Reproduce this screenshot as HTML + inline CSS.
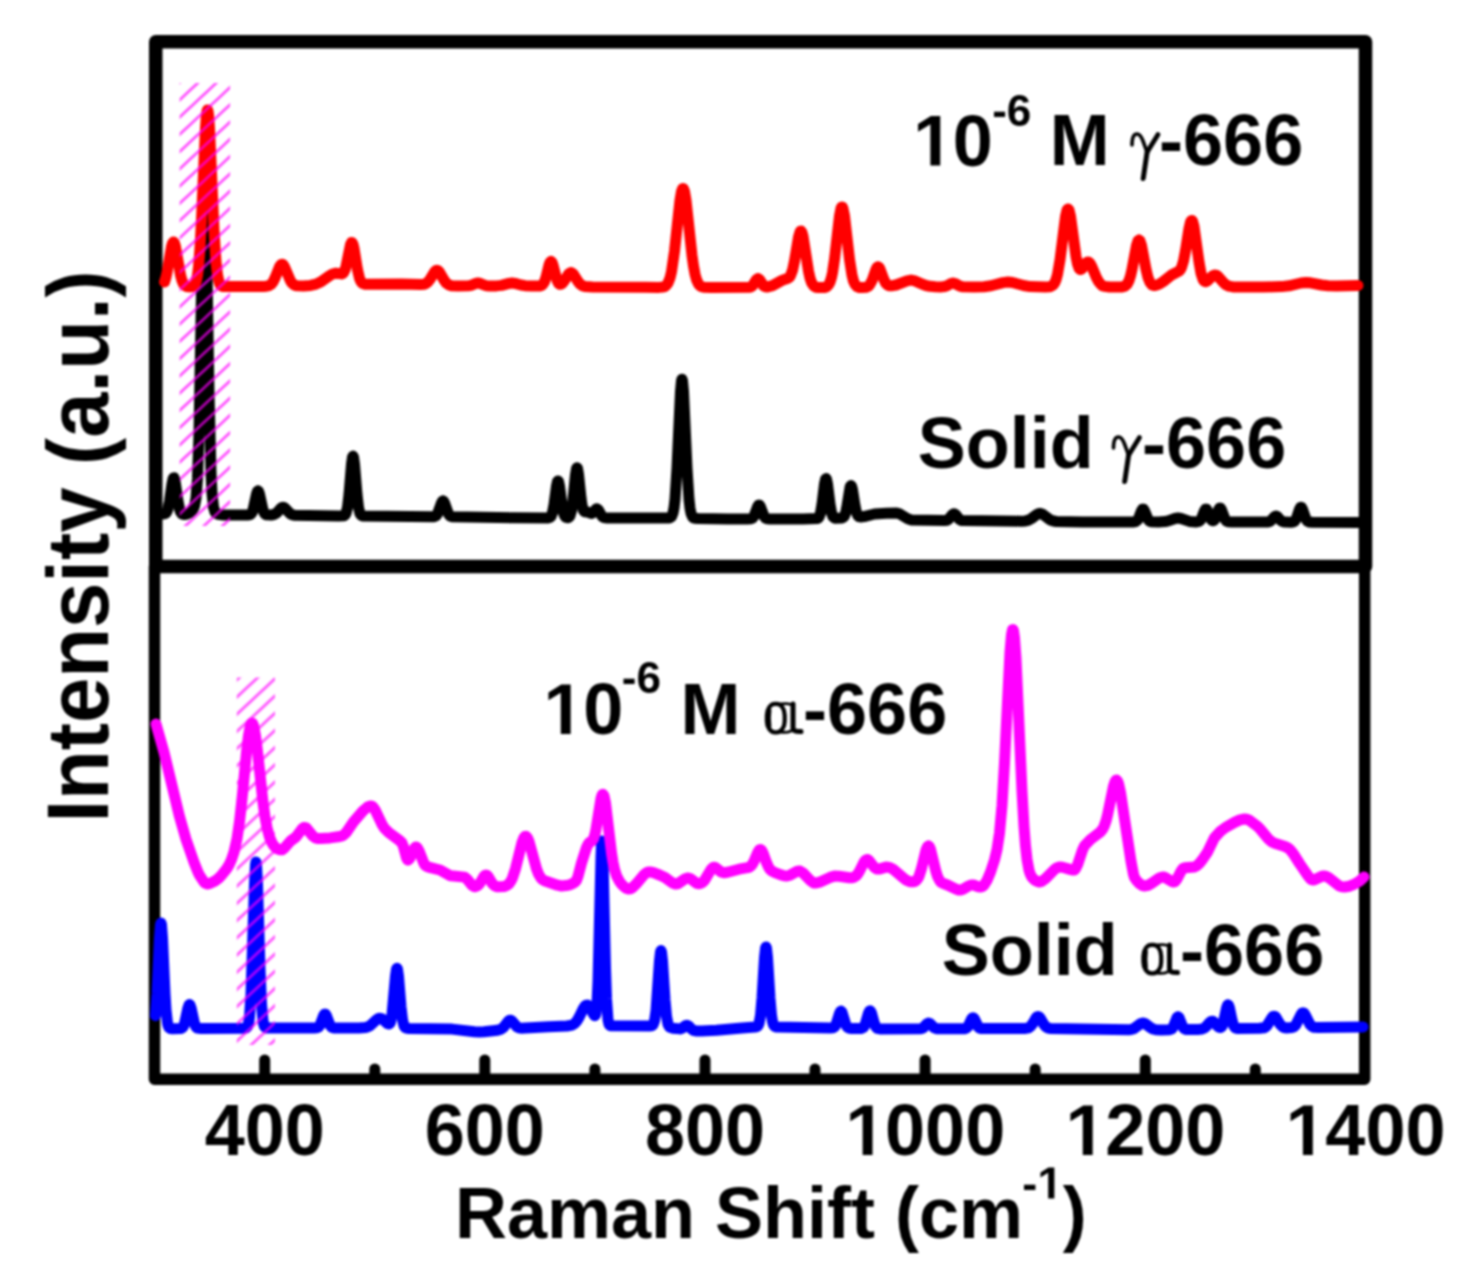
<!DOCTYPE html>
<html><head><meta charset="utf-8"><style>
html,body{margin:0;padding:0;background:#fff;width:1474px;height:1270px;overflow:hidden}
svg{display:block;filter:blur(0.8px)}
text{font-family:"Liberation Sans",sans-serif;font-weight:bold;fill:#000}
.g{font-family:"Liberation Serif",serif;font-style:italic;font-weight:normal}
.a{font-family:"Liberation Serif",serif;font-weight:normal}
</style></head><body>
<svg width="1474" height="1270" viewBox="0 0 1474 1270">
<defs>
<pattern id="h" patternUnits="userSpaceOnUse" width="12.62" height="12.62" patternTransform="rotate(-43)">
<rect x="0" y="4.89" width="12.62" height="2.8" fill="#ff00ff" fill-opacity="0.68"/>
</pattern>
<pattern id="h2" patternUnits="userSpaceOnUse" width="12.58" height="12.58" patternTransform="rotate(-43)">
<rect x="0" y="3.2" width="12.58" height="2.8" fill="#ff00ff" fill-opacity="0.68"/>
</pattern>
<g id="gam" fill="none" stroke="#000" stroke-linecap="round" stroke-linejoin="round">
<path d="M1,-20 C1,-28 3,-31 6,-31 C9,-31 10.5,-28 12,-24 L16,-13" stroke-width="3.6"/>
<path d="M27,-30.5 L16.2,-13" stroke-width="4.8"/>
<path d="M16.2,-13.5 L12.2,13.5" stroke-width="5"/>
</g>
<g id="alp" fill="none" stroke="#000" stroke-linecap="round" stroke-linejoin="round">
<rect x="2.9" y="-30.2" width="17.8" height="28.6" rx="8" ry="11.5" stroke-width="4.2"/>
<path d="M5.6,-24 C4.8,-18 4.8,-13 5.6,-7.5" stroke-width="3.6"/>
<path d="M29,-30 L29,-5.5 Q29.2,-2.2 37,-2.4" stroke-width="5"/>
<path d="M17,-30 Q23,-31 27,-29.5" stroke-width="2.8"/>
<path d="M17,-1.8 Q23,-1 27,-3" stroke-width="2.8"/>
</g>
<path id="one" d="M500,0 L500,1170 L150,959 L150,1180 L515,1409 L781,1409 L781,0 Z"/>
</defs>
<rect width="1474" height="1270" fill="#fff"/>
<g fill="none" stroke="#000" stroke-linejoin="round">
<rect x="155.75" y="41.75" width="1209.75" height="524.75" stroke-width="13.5"/>
<rect x="154.5" y="566.5" width="1210.2" height="512.75" stroke-width="11.5"/>
</g>
<g fill="none" stroke-width="11" stroke-linejoin="round" stroke-linecap="round">
<polyline stroke="#000" points="163.5,513.9 165.0,513.6 166.0,513.0 167.0,511.5 168.0,508.7 169.5,501.3 172.0,483.8 173.0,479.0 173.5,478.0 174.0,477.9 175.0,480.7 178.0,501.1 179.5,508.9 180.5,511.9 182.0,514.0 184.0,514.6 187.0,514.0 189.5,512.8 192.0,510.6 193.5,508.4 194.5,506.0 196.0,498.2 197.5,478.3 199.0,434.2 203.0,208.5 204.0,176.9 204.5,173.0 205.0,177.7 206.0,210.8 209.0,392.4 211.0,473.1 212.0,493.1 213.5,507.2 215.0,512.0 216.0,513.3 218.0,514.3 222.0,514.9 229.5,515.0 247.5,515.0 249.5,514.8 250.5,514.3 252.0,512.6 253.0,510.1 256.5,494.2 257.5,491.4 258.0,491.0 258.5,491.4 259.5,494.2 263.0,510.2 264.5,513.4 265.5,514.4 266.5,514.8 271.0,515.0 274.5,514.3 277.0,512.6 281.0,508.1 282.0,507.5 283.0,507.2 284.0,507.5 285.0,508.2 290.0,513.6 292.0,514.7 294.0,515.2 338.5,516.0 344.0,515.7 345.0,515.0 346.0,513.4 347.5,507.4 349.0,494.5 351.5,464.1 352.5,457.1 353.0,456.1 353.5,457.1 354.5,464.2 357.0,494.5 358.5,507.5 360.0,513.6 361.0,515.2 362.5,516.0 434.0,516.7 436.0,515.8 437.5,513.9 441.5,502.8 442.5,501.2 443.0,500.9 443.5,501.2 444.5,502.8 448.5,514.0 450.0,515.9 452.0,516.8 513.5,517.8 548.5,517.9 550.0,517.4 551.0,516.4 552.5,512.6 554.0,504.7 556.5,485.9 557.5,481.6 558.0,481.0 558.5,481.6 559.5,485.9 562.0,504.7 563.5,512.6 564.5,515.5 565.5,517.0 566.5,517.6 568.0,517.7 569.0,517.1 570.0,515.8 571.5,510.7 573.0,500.0 575.5,474.6 576.5,468.6 577.0,467.7 577.5,468.4 578.5,474.1 581.0,498.0 582.0,505.1 583.0,509.3 583.5,510.5 584.5,511.7 587.5,512.0 590.5,513.3 592.0,513.4 593.5,512.3 596.0,509.1 597.0,508.7 598.5,510.1 601.0,514.7 602.5,516.7 604.0,517.6 606.0,517.9 669.5,517.9 670.5,517.5 671.5,516.6 673.0,513.0 674.0,507.9 675.0,499.3 677.0,468.1 680.5,391.4 681.5,380.6 682.0,379.2 682.5,380.7 683.5,391.5 687.0,468.2 689.0,499.5 690.0,508.2 691.0,513.3 692.5,516.8 693.5,517.8 694.5,518.2 698.0,518.5 728.0,518.9 747.5,519.0 751.0,518.8 752.5,518.1 754.0,516.2 757.5,506.9 758.5,505.2 759.0,505.0 759.5,505.2 760.5,506.9 764.0,516.2 765.5,518.1 767.0,518.8 770.0,519.0 803.0,519.0 817.0,518.6 818.0,518.2 819.0,517.1 820.5,513.0 822.0,504.3 824.5,484.0 825.5,479.3 826.0,478.6 826.5,479.3 827.5,484.0 830.0,504.1 831.5,512.7 833.0,516.7 834.0,517.7 835.5,518.2 842.0,517.9 843.5,517.1 844.5,515.8 845.5,513.3 846.5,509.1 850.0,487.6 850.5,486.1 851.0,485.6 851.5,486.1 852.5,489.8 855.0,505.8 856.5,512.6 858.0,515.8 859.0,516.6 860.5,516.9 864.0,516.6 874.5,514.0 886.5,513.2 896.5,513.0 900.0,514.1 907.5,518.6 911.0,519.9 944.5,520.5 947.0,520.2 948.5,519.3 952.5,514.5 954.0,513.7 955.5,514.5 959.5,519.4 961.0,520.3 962.5,520.6 1021.5,521.2 1025.5,520.9 1028.5,520.1 1031.5,518.5 1037.0,514.4 1038.5,513.7 1040.0,513.5 1041.5,513.8 1043.0,514.5 1048.5,518.7 1051.0,520.2 1053.5,521.0 1056.5,521.5 1082.5,521.9 1133.0,522.0 1135.5,521.6 1137.5,520.1 1139.0,517.3 1141.5,510.7 1142.5,509.2 1143.0,509.0 1143.5,509.2 1144.5,510.7 1148.0,519.4 1149.5,521.1 1151.0,521.8 1158.5,522.0 1165.0,521.6 1169.0,520.7 1175.0,518.5 1178.0,518.0 1181.0,518.5 1189.5,521.4 1196.5,521.9 1199.0,521.4 1200.5,520.1 1202.0,517.3 1204.5,510.7 1205.5,509.2 1206.0,509.0 1206.5,509.2 1207.5,510.7 1211.0,519.3 1212.0,520.5 1213.5,520.7 1214.5,519.8 1215.5,518.1 1218.5,509.9 1219.5,508.2 1220.0,508.0 1220.5,508.2 1221.5,509.9 1225.0,519.2 1226.5,521.1 1228.0,521.8 1231.5,522.0 1267.5,522.0 1269.0,521.7 1270.5,521.0 1274.5,516.8 1276.0,516.1 1277.5,516.8 1280.5,520.2 1282.5,521.6 1285.0,522.1 1291.0,522.2 1293.5,521.8 1294.5,521.2 1295.5,520.0 1297.0,516.8 1299.5,509.2 1300.5,507.5 1301.0,507.2 1301.5,507.5 1302.5,509.2 1306.0,519.2 1307.5,521.2 1309.0,522.0 1312.5,522.3 1359.0,522.5"/>
<polyline stroke="#f00" points="164.5,282.0 166.0,277.2 167.0,272.6 171.5,246.6 172.5,243.2 173.5,242.0 174.5,243.2 175.5,246.6 180.5,275.0 182.0,280.6 183.5,284.0 185.0,285.7 186.5,286.5 189.5,286.9 192.5,286.6 194.0,285.7 195.0,284.4 196.5,280.3 197.5,275.1 198.5,267.2 200.0,248.3 201.5,220.1 205.5,128.1 206.5,114.7 207.0,111.1 207.5,109.9 208.0,111.1 208.5,114.6 209.5,128.1 214.0,230.4 216.0,261.8 217.5,275.0 219.0,281.9 220.0,284.3 221.0,285.6 222.0,286.2 223.5,286.6 263.0,286.4 266.5,286.2 269.0,285.6 271.0,284.4 273.0,282.0 275.0,278.0 279.5,266.8 281.0,264.7 282.0,264.2 283.0,264.6 284.5,266.8 290.5,280.9 292.0,283.1 294.0,284.8 295.5,285.5 297.5,285.8 303.5,285.9 310.5,285.4 316.0,284.1 321.0,281.7 329.5,275.7 332.5,274.0 336.0,273.2 341.5,273.9 342.5,273.6 343.5,272.8 345.0,269.8 346.0,266.5 350.5,244.6 351.5,242.5 352.0,242.5 353.0,244.3 354.0,248.4 357.5,269.8 359.5,278.3 360.5,280.8 361.5,282.4 363.0,283.6 365.0,284.2 401.5,284.0 420.5,284.5 424.0,284.2 426.0,283.5 428.0,281.9 430.0,279.4 434.5,272.0 436.0,270.6 437.0,270.3 438.0,270.7 439.5,272.2 444.0,280.0 446.0,282.8 448.5,284.7 451.5,285.7 458.0,286.0 468.5,285.8 471.0,285.4 476.0,283.4 478.0,283.0 480.0,283.4 484.0,285.0 486.5,285.7 490.0,286.0 496.5,285.9 501.5,285.4 509.0,283.4 512.0,283.0 515.0,283.4 521.0,285.0 525.0,285.7 531.5,286.0 540.0,285.9 541.5,285.5 542.5,284.8 544.5,281.7 546.0,277.2 549.0,265.0 550.0,262.3 551.0,261.3 552.0,262.3 553.0,265.1 557.0,280.3 558.5,283.3 560.0,284.3 561.0,284.1 562.5,283.1 564.0,281.2 568.5,274.2 570.0,272.9 571.0,272.6 572.0,272.9 573.5,274.3 578.0,281.5 580.0,284.0 582.5,285.8 585.0,286.6 592.5,286.9 645.5,287.3 659.0,287.4 663.0,287.0 664.5,286.6 666.0,285.6 668.0,283.1 670.0,278.0 671.5,271.7 674.5,251.2 680.0,200.1 681.5,191.5 682.5,188.8 683.0,188.5 683.5,188.8 684.5,191.5 686.0,200.1 692.0,255.4 693.5,266.1 695.0,274.1 696.5,279.6 698.5,284.0 699.5,285.2 701.0,286.4 704.0,287.3 711.5,287.5 749.5,287.3 751.0,286.9 752.5,285.8 756.5,279.5 758.0,278.5 759.5,279.5 763.5,285.7 765.0,286.7 767.5,286.9 772.5,285.6 782.0,280.4 788.0,278.3 789.5,277.1 790.5,275.6 792.5,270.3 794.5,261.0 798.5,237.1 800.0,232.0 800.5,231.2 801.0,231.1 802.0,232.6 803.0,236.2 808.5,271.2 810.0,278.0 811.5,282.5 813.5,285.7 816.0,287.2 818.5,287.6 822.5,287.6 825.0,287.4 826.5,286.8 828.5,285.0 830.0,282.2 831.5,277.3 832.5,272.6 834.5,259.3 839.5,215.8 841.0,208.4 841.5,207.3 842.0,207.0 842.5,207.3 843.0,208.5 844.5,215.8 849.5,259.4 852.0,275.2 853.5,281.0 855.0,284.4 857.0,286.6 859.5,287.5 862.5,287.6 866.0,287.3 868.0,286.5 869.5,285.2 872.0,280.7 876.0,269.3 877.0,267.5 878.0,266.8 879.0,267.4 880.0,269.1 883.5,278.7 885.5,282.9 887.5,285.0 889.5,285.7 892.5,285.7 896.0,285.0 907.0,280.8 911.0,280.1 915.0,280.9 922.5,284.3 926.0,285.5 930.0,286.3 935.5,286.7 941.5,286.9 944.5,286.5 947.0,285.7 951.0,283.5 953.0,283.0 955.0,283.5 960.0,286.1 963.0,286.8 974.0,287.0 984.0,286.7 991.0,285.8 1003.0,282.6 1008.0,282.0 1012.5,282.5 1023.5,285.5 1030.0,286.6 1045.5,287.0 1049.0,286.8 1051.0,286.3 1053.0,285.1 1054.5,283.2 1056.0,279.8 1057.5,274.4 1060.0,259.9 1065.5,216.6 1067.0,210.2 1068.0,208.9 1069.0,210.1 1070.5,216.3 1076.0,256.5 1077.5,264.0 1079.0,268.3 1080.0,269.5 1081.0,269.6 1082.5,268.2 1086.5,262.5 1088.0,261.9 1089.0,262.3 1090.0,263.3 1091.5,265.9 1096.0,276.7 1098.5,281.6 1101.0,284.6 1102.5,285.7 1104.5,286.4 1109.5,287.0 1122.0,286.9 1125.0,286.1 1127.0,284.4 1129.0,280.6 1130.5,275.9 1132.0,269.4 1136.5,245.5 1138.0,240.9 1139.0,240.0 1140.0,240.9 1141.5,245.5 1146.0,269.2 1148.0,277.5 1150.0,282.5 1152.0,284.8 1153.5,285.4 1155.0,285.5 1157.0,285.0 1159.5,284.0 1163.5,281.4 1171.5,275.0 1179.0,271.2 1180.5,269.4 1181.5,267.5 1183.5,261.0 1185.5,250.6 1189.0,228.4 1190.5,222.1 1191.5,220.4 1192.0,220.4 1192.5,221.1 1194.0,226.4 1199.0,262.1 1201.0,273.2 1203.0,279.4 1204.0,280.9 1205.0,281.6 1206.0,281.7 1207.0,281.2 1212.5,276.0 1214.0,275.1 1215.0,275.0 1216.5,275.4 1218.0,276.4 1223.5,282.6 1226.0,284.8 1229.0,286.2 1233.0,286.9 1263.0,287.0 1281.5,286.6 1289.0,285.8 1301.0,283.0 1306.0,282.5 1310.5,282.8 1321.5,285.0 1328.0,285.8 1336.5,285.9 1358.0,285.5"/>
<polyline stroke="#00f" points="155.5,1015.7 157.0,993.6 159.5,938.1 160.5,924.8 161.0,923.0 161.5,924.8 162.5,938.1 165.0,993.5 166.0,1009.8 167.5,1023.0 168.0,1025.2 169.0,1027.5 170.5,1028.6 172.5,1028.8 180.0,1028.6 181.5,1028.3 182.5,1027.6 183.5,1026.2 184.5,1023.8 188.0,1007.8 189.0,1005.0 189.5,1004.6 190.0,1005.0 191.0,1007.8 194.5,1023.7 196.0,1026.9 197.5,1028.1 201.0,1028.5 244.0,1028.2 246.0,1027.9 247.5,1026.5 248.5,1023.6 249.5,1016.9 251.0,994.4 254.5,884.3 255.5,864.8 256.0,862.1 256.5,864.7 257.5,884.3 260.0,968.3 261.5,1004.0 263.0,1020.8 264.0,1025.3 264.5,1026.4 265.5,1027.6 266.5,1027.9 269.0,1028.1 314.0,1028.0 317.0,1027.8 318.5,1027.1 320.0,1025.2 323.5,1015.9 324.5,1014.2 325.0,1014.0 325.5,1014.2 326.5,1015.9 330.0,1025.2 331.5,1027.1 333.5,1027.9 359.0,1028.1 365.5,1027.6 368.0,1026.8 370.0,1025.7 376.5,1019.8 378.0,1018.8 379.5,1018.3 381.0,1018.4 382.5,1019.1 387.5,1023.5 389.0,1024.0 390.0,1023.2 390.5,1022.1 392.0,1014.8 395.5,976.0 396.5,969.1 397.0,968.2 397.5,969.2 398.5,976.3 401.0,1006.8 402.5,1019.7 404.0,1025.8 405.0,1027.4 406.0,1028.1 409.0,1028.5 452.0,1029.1 474.5,1031.7 479.5,1032.0 484.0,1031.8 497.5,1030.2 501.0,1029.2 503.5,1027.3 508.0,1021.5 509.0,1020.6 510.0,1020.2 511.0,1020.4 512.0,1021.1 517.0,1026.8 519.0,1027.8 521.0,1028.2 548.5,1026.7 567.0,1026.0 572.0,1025.1 574.5,1023.6 577.0,1020.8 579.0,1017.4 583.5,1008.3 585.0,1006.1 586.0,1005.3 587.5,1005.1 589.0,1006.1 590.5,1008.3 593.5,1014.1 594.5,1015.5 595.0,1015.6 595.5,1014.9 596.0,1013.1 597.0,1003.4 598.0,981.5 601.0,857.2 601.5,845.2 602.0,841.1 602.5,845.6 603.0,858.0 605.5,968.0 606.5,998.8 608.0,1019.8 609.0,1024.2 609.5,1025.1 610.5,1025.8 649.5,1026.0 651.5,1025.8 653.0,1024.8 654.5,1021.0 656.0,1010.8 659.5,960.6 660.5,951.8 661.0,950.6 661.5,951.9 662.5,960.9 665.0,999.7 666.5,1016.2 668.0,1024.1 669.0,1026.3 670.0,1027.3 673.0,1028.2 680.0,1028.9 682.0,1028.3 685.5,1025.6 687.0,1025.2 688.5,1025.9 691.5,1029.0 693.5,1030.3 696.0,1030.9 701.5,1031.0 716.5,1030.3 742.0,1027.9 755.0,1027.0 757.0,1026.6 758.0,1025.7 759.0,1023.5 760.5,1015.4 762.0,998.2 764.5,957.7 765.5,948.3 766.0,947.0 766.5,948.3 767.5,957.7 770.0,998.2 771.5,1015.4 772.5,1021.6 773.5,1024.8 774.5,1026.3 776.5,1027.0 830.0,1028.0 833.0,1027.8 834.5,1026.9 836.0,1024.7 839.5,1013.5 840.5,1011.5 841.0,1011.2 842.0,1012.3 845.5,1023.7 846.5,1025.9 847.5,1027.2 849.0,1028.1 850.5,1028.4 861.5,1028.4 863.5,1027.4 865.0,1025.0 868.5,1013.1 869.5,1011.0 870.0,1010.8 870.5,1011.1 871.5,1013.2 874.0,1022.3 875.5,1026.2 876.5,1027.6 877.5,1028.4 880.0,1028.9 920.5,1028.8 922.0,1028.4 923.5,1027.6 927.0,1023.8 928.5,1023.0 930.0,1023.6 934.0,1027.7 936.5,1028.7 964.5,1028.7 966.5,1028.0 968.0,1026.6 971.5,1019.2 972.5,1017.9 973.0,1017.8 973.5,1017.9 974.5,1019.2 978.0,1026.5 979.5,1028.0 981.0,1028.5 1025.5,1028.4 1028.5,1027.8 1030.5,1026.5 1032.5,1023.9 1036.0,1017.9 1037.0,1016.9 1038.0,1016.5 1039.0,1016.9 1040.0,1017.9 1043.5,1023.8 1045.5,1026.4 1047.5,1027.8 1050.0,1028.4 1129.0,1029.7 1131.5,1029.4 1134.0,1028.5 1140.5,1023.8 1143.0,1023.0 1145.5,1023.8 1150.5,1027.7 1153.0,1029.0 1156.0,1029.8 1161.0,1030.0 1169.0,1029.8 1171.5,1029.0 1172.5,1028.0 1173.5,1026.3 1177.0,1017.6 1178.0,1016.8 1179.0,1017.6 1182.5,1026.2 1183.5,1027.8 1184.5,1028.8 1186.0,1029.5 1187.5,1029.6 1199.0,1029.4 1202.0,1029.0 1204.5,1028.0 1206.5,1026.2 1210.0,1022.2 1211.0,1021.5 1212.0,1021.2 1213.0,1021.4 1214.0,1022.1 1217.5,1026.0 1219.0,1027.2 1220.5,1027.5 1221.5,1026.9 1222.5,1025.2 1223.5,1022.2 1226.5,1008.1 1227.5,1005.3 1228.0,1004.9 1228.5,1005.2 1229.5,1008.1 1232.0,1020.1 1233.5,1025.3 1235.0,1027.7 1237.0,1028.6 1259.5,1028.3 1264.0,1027.8 1265.5,1027.0 1267.0,1025.7 1272.0,1017.6 1273.0,1016.5 1274.0,1016.2 1275.0,1016.5 1276.0,1017.5 1280.0,1024.2 1282.5,1026.8 1284.0,1027.5 1286.0,1027.9 1292.0,1027.6 1294.0,1026.7 1296.0,1024.6 1301.0,1014.6 1302.0,1013.2 1303.0,1012.8 1304.0,1013.2 1305.0,1014.5 1310.0,1024.4 1312.0,1026.5 1314.0,1027.3 1318.5,1027.6 1363.0,1027.0"/>
<polyline stroke="#f0f" points="156.0,724.0 164.0,752.2 179.5,816.6 186.0,839.3 194.0,862.3 198.0,872.3 199.5,875.2 203.5,881.3 205.0,883.0 206.5,883.9 208.0,883.9 210.0,883.4 215.5,880.7 218.5,878.4 222.0,874.7 226.5,869.0 229.0,865.0 231.5,859.5 234.0,852.0 237.0,838.8 239.5,821.8 242.0,799.2 246.5,752.4 248.5,735.5 250.5,725.3 251.5,723.3 252.0,723.1 252.5,723.3 253.5,725.5 255.5,735.5 257.5,751.4 263.0,802.3 265.0,816.7 267.0,827.6 269.5,837.1 272.0,842.9 273.5,845.3 275.5,847.5 277.5,848.9 279.5,849.7 282.0,849.8 284.0,848.5 290.5,841.0 296.0,837.0 302.0,829.0 304.0,827.5 305.0,827.4 306.5,828.2 313.0,836.2 315.0,837.7 317.0,838.4 321.0,838.6 330.0,837.9 338.0,836.8 343.0,835.6 346.0,832.8 353.5,821.8 363.0,810.9 367.5,807.1 369.5,806.2 371.0,806.0 372.0,806.3 373.0,807.0 375.0,809.7 382.0,824.3 384.5,828.4 388.5,832.3 399.5,840.5 402.0,843.0 403.5,846.7 406.5,857.7 407.5,859.7 408.0,860.0 409.0,859.4 410.0,858.0 414.5,848.2 415.5,847.1 416.5,847.1 417.5,848.1 419.0,850.8 423.0,861.1 424.5,864.3 425.5,865.6 427.0,866.5 430.5,867.7 440.0,870.0 448.5,874.8 451.0,875.8 464.5,877.1 467.0,879.1 472.0,885.2 474.0,886.6 475.0,886.7 476.5,886.3 478.5,884.9 480.5,882.3 484.0,876.4 485.0,875.4 486.0,875.0 487.0,875.4 488.0,876.4 492.0,883.1 494.5,885.7 496.0,886.5 498.0,886.8 504.0,886.5 507.0,885.4 509.0,883.7 511.0,880.9 512.5,877.8 515.5,868.7 522.0,842.6 524.0,837.6 525.0,836.5 526.0,836.3 527.5,837.9 529.0,841.4 536.5,868.8 538.5,874.0 541.0,878.1 542.5,879.6 544.5,880.8 557.5,885.2 561.5,886.0 566.0,885.6 569.5,884.8 572.5,883.6 575.0,882.0 576.5,880.3 578.0,876.4 581.5,863.0 586.5,847.5 588.5,843.6 589.5,842.5 592.0,841.0 593.5,838.8 595.0,834.1 596.0,829.3 601.0,798.4 602.0,795.2 602.5,794.5 603.0,794.4 604.0,796.0 605.5,803.0 611.5,852.9 613.0,862.3 614.5,869.3 616.5,875.7 619.5,881.5 621.5,884.1 624.0,886.6 626.0,888.1 628.0,888.9 630.5,888.7 633.0,887.2 636.0,884.2 644.0,874.7 646.5,872.7 648.5,872.0 651.0,872.1 653.5,872.7 659.5,875.0 665.0,877.5 672.0,882.6 675.0,883.9 676.5,884.0 678.0,883.6 685.0,878.9 686.5,878.3 688.0,878.0 690.5,878.8 697.0,883.4 698.5,883.8 700.0,883.6 702.5,882.3 704.5,880.3 711.0,869.5 712.5,867.9 713.5,867.3 714.5,867.3 715.5,867.6 721.0,871.9 724.0,872.8 727.5,872.3 739.0,869.2 747.5,867.7 749.5,867.0 751.0,865.9 752.5,864.1 754.5,860.2 758.0,851.9 759.5,849.8 760.5,849.5 761.5,850.2 763.0,852.9 766.5,862.6 768.5,867.1 770.0,869.4 772.0,871.2 775.0,872.7 781.0,874.9 784.0,875.7 787.0,876.0 790.0,875.2 797.0,871.4 798.5,871.0 800.0,871.1 803.0,872.9 810.5,880.7 812.5,882.2 814.0,882.9 816.5,882.9 819.5,882.2 830.0,877.4 834.5,876.1 839.0,876.2 849.5,877.8 852.0,877.8 854.0,877.2 856.0,875.9 857.5,874.3 859.5,871.1 864.0,862.1 865.5,860.2 867.0,859.5 868.0,859.7 869.0,860.5 874.0,867.0 876.5,868.9 879.0,869.1 886.0,867.1 889.5,867.4 892.0,868.6 894.5,870.3 903.0,877.7 906.5,880.3 910.0,881.8 913.5,881.8 915.0,881.4 916.5,880.3 918.0,878.3 919.0,876.3 921.5,868.5 926.0,850.0 927.5,846.6 928.5,846.0 929.5,847.0 930.5,849.2 936.0,871.7 937.5,876.4 939.5,880.4 941.0,882.2 942.5,883.1 947.5,885.0 956.0,889.1 958.5,889.9 960.5,890.0 963.0,889.2 968.5,886.0 971.0,885.0 973.5,885.0 978.5,886.8 980.5,887.0 982.5,886.4 984.0,885.2 987.0,880.4 990.5,872.1 994.5,859.9 997.0,849.6 999.5,833.1 1002.0,805.4 1004.5,763.1 1010.0,651.9 1011.5,634.5 1012.5,629.7 1013.0,629.5 1013.5,630.8 1014.5,637.8 1016.0,658.4 1022.0,791.3 1024.0,826.5 1025.5,845.7 1027.0,859.2 1029.0,870.2 1030.0,873.5 1031.5,876.7 1033.0,878.5 1035.0,880.2 1037.0,881.4 1038.5,881.9 1040.0,881.9 1042.0,881.2 1045.5,878.6 1054.5,869.5 1056.5,868.1 1058.5,867.2 1060.0,867.0 1062.5,867.3 1070.0,869.4 1073.0,870.0 1074.5,869.9 1075.5,868.9 1077.5,864.9 1082.5,850.0 1084.5,845.7 1090.5,839.5 1100.5,831.8 1102.5,829.3 1104.0,826.5 1106.0,821.0 1107.5,815.2 1113.5,786.2 1115.0,781.6 1116.0,780.2 1116.5,780.1 1117.5,781.0 1118.5,783.5 1120.5,792.4 1131.0,861.4 1133.5,874.4 1134.5,877.5 1136.5,880.5 1139.5,883.6 1142.5,885.5 1145.0,886.0 1148.0,885.3 1151.0,883.7 1158.5,878.4 1160.5,877.5 1162.5,877.0 1164.0,877.1 1165.5,877.7 1172.0,881.6 1174.0,882.0 1175.0,881.6 1177.0,879.1 1181.0,871.3 1183.0,868.5 1185.0,867.8 1194.5,866.9 1197.0,865.6 1199.5,863.2 1202.5,859.5 1207.5,852.2 1214.5,837.7 1220.0,831.7 1225.5,827.5 1235.0,822.1 1240.0,819.9 1244.5,819.0 1247.0,819.3 1249.5,820.4 1257.5,826.4 1260.5,829.4 1268.0,838.6 1271.5,841.7 1275.5,843.6 1285.0,846.5 1288.0,848.0 1289.5,849.1 1293.5,854.0 1299.5,863.5 1308.0,875.9 1310.0,878.4 1311.5,879.6 1313.0,880.0 1314.5,879.8 1322.0,876.3 1324.0,876.0 1325.5,876.2 1327.5,877.0 1329.5,878.2 1339.0,885.7 1341.5,886.8 1344.5,887.0 1349.5,886.2 1354.5,884.2 1359.5,881.1 1364.0,877.0"/>
</g>
<rect x="179.6" y="83" width="50.5" height="443" fill="url(#h)"/>
<rect x="236.8" y="677.5" width="38.2" height="367.5" fill="url(#h2)"/>

<g stroke="#000" stroke-width="11" stroke-linecap="round">
<line x1="264.7" y1="1060" x2="264.7" y2="1078"/>
<line x1="484.8" y1="1060" x2="484.8" y2="1078"/>
<line x1="705.0" y1="1060" x2="705.0" y2="1078"/>
<line x1="925.1" y1="1060" x2="925.1" y2="1078"/>
<line x1="1145.3" y1="1060" x2="1145.3" y2="1078"/>
<line x1="374.8" y1="1069" x2="374.8" y2="1078"/>
<line x1="594.9" y1="1069" x2="594.9" y2="1078"/>
<line x1="815.0" y1="1069" x2="815.0" y2="1078"/>
<line x1="1035.2" y1="1069" x2="1035.2" y2="1078"/>
<line x1="1255.3" y1="1069" x2="1255.3" y2="1078"/>
</g>

<g font-size="72">
<text x="264.7" y="1155" text-anchor="middle">400</text>
<text x="484.8" y="1155" text-anchor="middle">600</text>
<text x="705.0" y="1155" text-anchor="middle">800</text>
<use href="#one" transform="translate(845.06,1155.00) scale(0.03516,-0.03516)"/>
<text x="885.09" y="1155">000</text>
<use href="#one" transform="translate(1065.20,1155.00) scale(0.03516,-0.03516)"/>
<text x="1105.23" y="1155">200</text>
<use href="#one" transform="translate(1285.34,1155.00) scale(0.03516,-0.03516)"/>
<text x="1325.37" y="1155">400</text>
<text x="455" y="1238">Raman Shift (cm</text>
<text x="1022.2" y="1198.5" font-size="45">-</text><use href="#one" transform="translate(1037.20,1198.50) scale(0.02197,-0.02197)"/>
<text x="1062.7" y="1238">)</text>

<use href="#one" transform="translate(912.80,165.50) scale(0.03516,-0.03516)"/><text x="952.83" y="165.5">0</text>
<text x="992.2" y="125.5" font-size="44">-6</text>
<text x="1049.7" y="165">M</text>
<use href="#gam" transform="translate(1131,165)"/>
<text x="1159.1" y="165">-666</text>

<text x="917.8" y="468">Solid</text>
<use href="#gam" transform="translate(1112.5,468)"/>
<text x="1142.1" y="468">-666</text>

<use href="#one" transform="translate(543.20,734.00) scale(0.03516,-0.03516)"/><text x="583.23" y="734">0</text>
<text x="621.8" y="693.2" font-size="44">-6</text>
<text x="680.5" y="734">M</text>
<use href="#alp" transform="translate(764,734)"/>
<text x="803.1" y="734">-666</text>

<text x="941.8" y="975">Solid</text>
<use href="#alp" transform="translate(1140.5,975)"/>
<text x="1180.1" y="975">-666</text>
</g>
<text font-size="81.5" transform="translate(108.4,822.6) rotate(-90) scale(1,1.06)">Intensity (a.u.)</text>

</svg>
</body></html>
